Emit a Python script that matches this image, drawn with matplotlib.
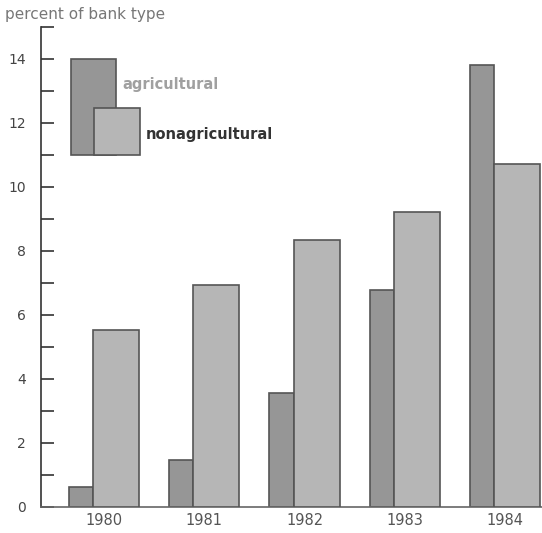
import matplotlib
matplotlib.use("Agg")
import matplotlib.pyplot as plt
from matplotlib.patches import Rectangle
import numpy as np

years = ["1980", "1981", "1982", "1983", "1984"]
agricultural = [0.62, 1.47, 3.56, 6.78, 13.8]
nonagricultural = [5.53, 6.94, 8.34, 9.22, 10.72]
series_names = ["agricultural", "nonagricultural"]
yticks = [0, 2, 4, 6, 8, 10, 12, 14]

ag_color = "#969696"
nonag_color = "#b6b6b6"
edge = "#555555"

fig = plt.figure(figsize=(5.42, 5.33), dpi=100)
ax = fig.add_axes([41/542, 26/533, 1 - 41/542, 480/533])

x = np.arange(len(years))
ax.bar(x - 0.35, agricultural, width=0.24, align="edge", color=ag_color,
       edgecolor=edge, linewidth=1.2, zorder=2)
ax.bar(x - 0.11, nonagricultural, width=0.46, align="edge", color=nonag_color,
       edgecolor=edge, linewidth=1.2, zorder=3)

ax.set_xlim(-0.63, 4.37)
ax.set_ylim(0, 15)
ax.set_yticks(yticks)
ax.set_yticks(range(1, 16, 2), minor=True)
ax.tick_params(axis="y", which="both", direction="in", length=9, width=1.2,
               color="#333333", labelsize=10, labelcolor="#444444", pad=11)
ax.set_xticks(x)
ax.set_xticklabels(years)
ax.tick_params(axis="x", length=0, labelsize=10.5, labelcolor="#555555", pad=4)
for s in ["top", "right"]:
    ax.spines[s].set_visible(False)
ax.spines["left"].set_color("#333333")
ax.spines["left"].set_linewidth(1.2)
ax.spines["bottom"].set_color("#666666")
ax.spines["bottom"].set_linewidth(1.2)

fig.text(5/542, 1 - 15/533, "percent of bank type", fontsize=11,
         color="#777777", va="center", ha="left")

# legend (drawn in data coordinates, like the original's inset key)
ax.add_patch(Rectangle((-0.33, 11.0), 0.45, 3.0, facecolor=ag_color,
                       edgecolor=edge, linewidth=1.2, zorder=4))
ax.add_patch(Rectangle((-0.10, 11.0), 0.46, 1.47, facecolor=nonag_color,
                       edgecolor=edge, linewidth=1.2, zorder=5))
ax.text(0.18, 13.2, series_names[0], fontsize=10.5, color="#a0a0a0",
        fontweight="bold", va="center", ha="left")
ax.text(0.42, 11.65, series_names[1], fontsize=10.5, color="#333333",
        fontweight="bold", va="center", ha="left")

fig.savefig("out.png", dpi=100)
